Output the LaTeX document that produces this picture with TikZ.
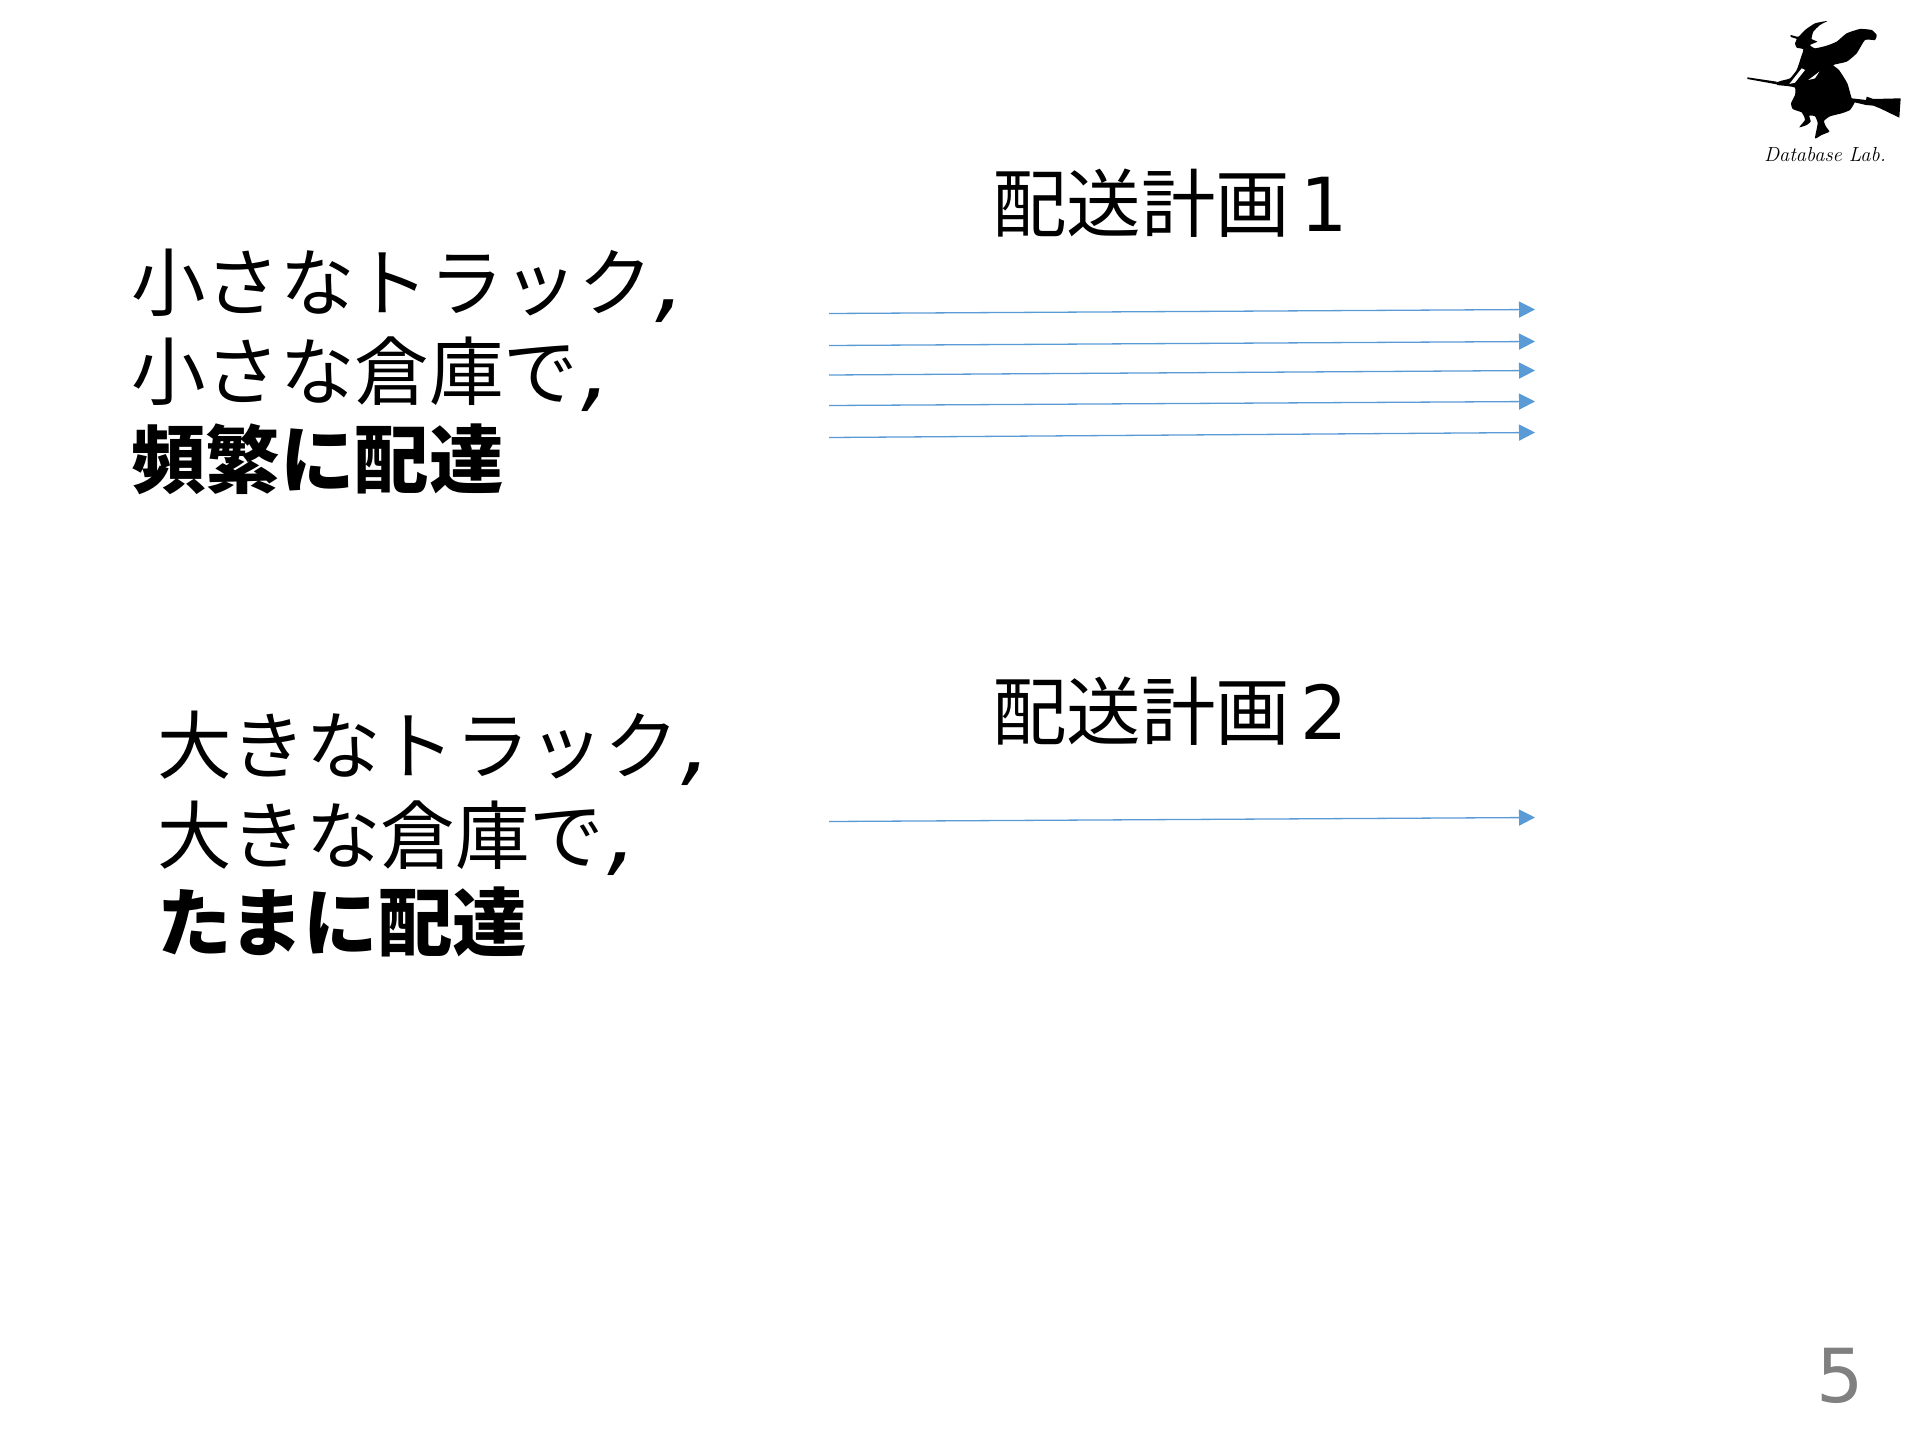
\documentclass[tikz,border=0pt]{standalone}
\usepackage{fontspec}
\usetikzlibrary{arrows.meta}
\setmainfont{DejaVu Sans}
\newfontfamily\jp{Noto Sans CJK JP}
\newfontfamily\logofont{Latin Modern Roman}
\definecolor{arrowblue}{HTML}{5B9BD5}
\definecolor{pagenum}{HTML}{808080}
\newcommand{\slantcomma}{\hspace{3pt}\raisebox{-1pt}{\fontsize{95pt}{95pt}\selectfont\itshape ,}}
\tikzset{
  txt/.style={anchor=base west,inner sep=0pt,outer sep=0pt,font=\fontsize{74.5pt}{74.5pt}\selectfont},
  flow/.style={draw=arrowblue,line width=1.3pt,-{Triangle[length=16pt,width=16pt]}},
  witch/.style={fill=black,draw=none}
}
\begin{document}
\begin{tikzpicture}[x=1pt,y=-1pt]
\useasboundingbox[fill=white] (0,0) rectangle (1920,1440);
% texts
\node[txt] (a1) at (131,310) {{\jp 小さなトラック}\slantcomma};
\node[txt] (a2) at (131,399.5) {{\jp 小さな倉庫で}\slantcomma};
\node[txt] (a3) at (131,487) {{\jp\bfseries 頻繁に配達}};
\node[txt] (b1) at (157,773) {{\jp 大きなトラック}\slantcomma};
\node[txt] (b2) at (157,863) {{\jp 大きな倉庫で}\slantcomma};
\node[txt] (b3) at (157,950) {{\jp\bfseries たまに配達}};
\node[txt] (p1) at (992,231) {{\jp 配送計画}\hspace{-13pt} 1};
\node[txt] (p2) at (992,739.5) {{\jp 配送計画}\hspace{-13pt} 2};
\node[txt,text=pagenum] (num) at (1816,1402) {5};
% connectors
\coordinate (s1) at (829,313.5); \coordinate (e1) at (1535,309.5);
\coordinate (s2) at (829,345.5); \coordinate (e2) at (1535,341.5);
\coordinate (s3) at (829,375); \coordinate (e3) at (1535,370.5);
\coordinate (s4) at (829,405.5); \coordinate (e4) at (1535,401.5);
\coordinate (s5) at (829,437.5); \coordinate (e5) at (1535,432.5);
\coordinate (s6) at (829,821.5); \coordinate (e6) at (1535,817.5);
\foreach \i in {1,...,6} \draw[flow] (s\i) -- (e\i);
% logo
\begin{scope}[shift={(1740,15)},x=0.3333pt,y=-0.3333pt]
\fill[witch] plot[smooth cycle,tension=0.3] coordinates {
 (262,18) (225,25) (195,45) (175,65) (152,60) (153,66) (170,72) (165,85) (170,98) (190,103)
 (182,130) (170,165) (150,190) (125,197) (108,203) (112,210) (140,213) (165,218) (165,240) (153,265)
 (158,282) (185,292) (190,300) (195,315) (178,337) (200,330) (212,320) (208,302) (225,304) (233,325)
 (225,370) (245,360) (268,350) (258,335) (252,318) (270,304) (305,295) (330,285) (345,260) (335,250)
 (322,205) (297,165) (280,150) (320,140) (350,115) (375,75) (405,75) (410,60) (395,45) (360,42)
 (320,55) (290,80) (260,92) (225,100) (210,90) (232,80) (215,72) (220,50) (240,30)};
\fill[witch] (22,187) -- (110,200) -- (110,208) -- (22,192) -- cycle;
\fill[witch] (335,250) -- (378,255) -- (380,245) -- (400,252) -- (482,250) -- (478,308) -- (420,280) -- (400,272) -- (378,270) -- (335,260) -- cycle;
\fill[white] (148,207) -- (185,160) -- (195,165) -- (165,203) -- cycle;
\fill[white] (205,195) -- (238,170) -- (225,190) -- cycle;
\node[anchor=base,inner sep=0pt,font=\logofont\itshape\fontsize{20.4pt}{20.4pt}\selectfont] (lab) at (255,441) {Database Lab.};
\end{scope}
\end{tikzpicture}
\end{document}
